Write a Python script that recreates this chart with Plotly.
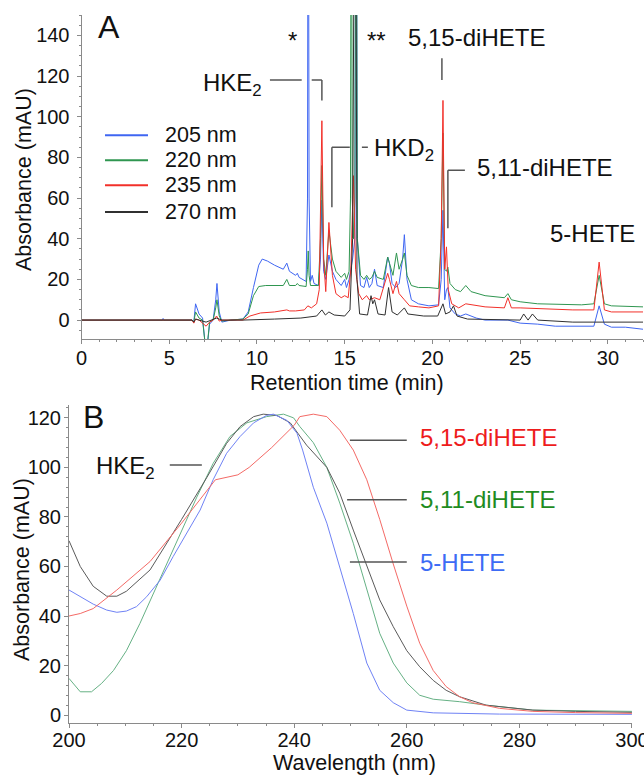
import plotly.graph_objects as go

# ---------------- Panel A: chromatogram (retention time in min, absorbance in mAU)
t_205 = [0, 4.6, 4.65, 4.7, 6.3, 6.4, 6.5, 6.7, 6.9, 7.05, 7.15, 7.3, 7.5, 7.65, 7.72, 7.85, 8.0, 8.5,
         9.2, 9.5, 9.8, 10.1, 10.3, 10.6, 11.0, 11.5, 11.7, 11.85, 12.2, 12.3, 12.4, 12.8, 12.88, 12.92,
         12.97, 13.05, 13.15, 13.25, 13.5, 13.62, 13.7, 13.8, 13.92, 14.1, 14.3, 14.5, 14.8, 15.0, 15.1,
         15.25, 15.45, 15.58, 15.65, 15.72, 15.9, 16.1, 16.25, 16.4, 16.55, 16.7, 16.85, 17.2, 17.45,
         17.55, 17.7, 17.9, 18.1, 18.3, 18.4, 18.55, 18.8, 19.2, 19.8, 20.35, 20.5, 20.6, 20.7, 20.8,
         20.88, 21.0, 21.3, 21.6, 21.9, 22.5, 23.0, 24.3, 25.0, 26.0, 27.0, 28.5, 29.2, 29.5, 29.8,
         30.2, 31.0, 32]
a_205 = [0, 0, 0.8, 0, 0, -1, 8, 3, 1, -12, -14, -2, 0, 10, 18, 4, -1, 0,
         0.5, 4, 16, 27, 30, 29, 27, 25, 28, 24, 22, 23, 21, 19, 60, 300,
         60, 19, 22, 18, 17, 30, 59, 24, 20, 32, 24, 20, 17, 20, 16,
         20, 30, 40, 300, 40, 17, 16, 21, 16, 18, 25, 17, 16, 31,
         28, 18, 16, 18, 30, 42, 20, 10, 8, 7, 7.5, 20, 54, 10, 15,
         16, 6, 3, 2, 3, 1, 0, 0, -1.5, -2, -3, -3, -3, 7, -2,
         -3.5, -3.5, -4.5]

t_220 = [0, 6.3, 6.4, 6.5, 6.7, 6.9, 7.05, 7.15, 7.3, 7.5, 7.65, 7.72, 7.85, 8.0, 8.5, 9.2, 9.5, 9.8,
         10.1, 10.5, 11.5, 11.7, 11.85, 12.2, 12.3, 12.4, 12.8, 12.88, 12.92, 12.97, 13.05, 13.5, 13.62,
         13.7, 13.8, 13.92, 14.1, 14.3, 14.5, 14.8, 15.0, 15.1, 15.25, 15.33, 15.38, 15.43, 15.5, 15.58,
         15.65, 15.72, 15.9, 16.1, 16.25, 16.4, 16.55, 16.7, 16.85, 17.2, 17.45, 17.55, 17.75, 17.95,
         18.1, 18.3, 18.4, 18.55, 18.8, 19.2, 19.8, 20.35, 20.5, 20.6, 20.7, 20.8, 20.88, 21.0, 21.3,
         21.6, 21.9, 22.2, 23.0, 24.1, 24.3, 24.5, 25.0, 26.0, 28.5, 29.2, 29.5, 29.8, 30.2, 32]
a_220 = [0, 0, -1, 4, 1, 0, -12, -14, -1, 0, 6, 10, 2, -0.5, 0, 0.5, 3, 12,
         16.5, 17, 17, 20, 17, 17, 18, 17, 16.5, 25, 34, 22, 17, 17, 40,
         76, 30, 22, 44, 30, 24, 21, 23, 20, 24, 60, 300, 60, 40, 60,
         300, 40, 22, 20, 22, 20, 21, 24, 21, 20, 31, 28, 22, 33,
         25, 30, 33, 22, 17, 16, 16, 15.5, 40, 92, 25, 24, 26, 18, 15,
         14, 17, 14, 12, 11, 13, 10, 9, 8, 7.5, 8, 22, 8, 7, 6.5]

t_235 = [0, 6.3, 6.4, 6.5, 6.7, 7.1, 7.3, 7.5, 7.7, 7.85, 8.0, 9.2, 9.6, 10.2, 11.0, 11.7, 11.85, 12.2,
         12.7, 12.9, 13.1, 13.4, 13.55, 13.7, 13.8, 13.92, 14.1, 14.3, 14.5, 14.8, 15.0, 15.2, 15.35,
         15.5, 15.62, 15.8, 16.0, 16.25, 16.4, 16.7, 17.0, 17.45, 17.55, 17.75, 17.95, 18.1, 18.4, 18.7,
         19.2, 19.8, 20.35, 20.5, 20.6, 20.7, 20.8, 20.9, 21.1, 21.5, 21.9, 23.0, 24.1, 24.3, 24.5,
         25.0, 28.0, 29.2, 29.5, 29.8, 30.2, 32]
a_235 = [0, 0, -1.5, 0.5, 0, -3, -1, 0, 2, -0.5, 0, 0, 2, 3.5, 4, 5, 4.5, 4.5,
         5, 7, 6, 8, 15, 98, 30, 14, 48, 22, 13, 11, 12, 11, 25,
         71, 25, 13, 10, 12, 10, 11, 10, 23, 20, 13, 19, 13, 10, 7,
         6.5, 6, 7, 40, 108, 25, 36, 15, 8, 6, 8, 6.5, 6, 11, 6,
         6, 5, 5, 28.5, 5, 4, 4]

t_270 = [0, 6.3, 6.4, 6.5, 7.1, 7.7, 8.0, 9.2, 11.0, 12.5, 13.4, 13.7, 13.9, 14.1, 14.4, 15.0, 15.3,
         15.45, 15.6, 15.7, 15.85, 16.3, 16.5, 16.6, 16.7, 16.9, 17.3, 17.5, 17.7, 18.0, 18.4, 18.6,
         19.5, 20.3, 20.6, 20.75, 21.0, 21.2, 21.4, 22.0, 25.0, 25.2, 25.45, 25.7, 26.0, 28.0, 32]
a_270 = [0, 0, -1, 0.5, -1, 1, 0, 0, 0.5, 1, 2, 5, 2.5, 4, 2.5, 2, 5,
         40, 300, 20, 3, 2.5, 12, 8, 10, 3, 2.5, 16, 4, 2.5, 6, 3,
         2, 2, 8, 3, 4, 7, 2, 0.5, 0, 3, 0, 3, 0, -1, -1]

legend_names = ["205 nm", "220 nm", "235 nm", "270 nm"]

# ---------------- Panel B: UV spectra (wavelength in nm, absorbance in mAU)
w_515 = [200, 202, 204.3, 208.5, 214.4, 220, 226, 230, 232, 236, 240, 241, 243.4, 245.8, 248.1, 250.5,
         252.9, 255.2, 257.6, 260, 262.3, 264.7, 267, 269.4, 271.7, 276.5, 282.4, 290, 300]
s_515 = [40, 41, 43, 50.5, 62, 77.5, 95, 97, 100, 108, 117, 120.5, 121.5, 120.5, 115, 107,
         95, 79, 61, 44, 29, 18, 11.5, 7.4, 5, 2.7, 1.5, 1, 0.7]

w_hke = [200, 202, 204.3, 206.7, 208.5, 210.2, 214.4, 220, 224.5, 228, 230.4, 232.8, 234.5, 236.9, 239.3,
         242.2, 245.8, 248.1, 250.5, 252.9, 255.2, 257.6, 260, 262.3, 264.7, 267, 269.4, 274.1, 282.4,
         290, 300]
s_hke = [70.4, 60, 52, 48, 48, 50, 58.6, 79, 96, 109.7, 116.5, 120.5, 121.5, 121, 118,
         109, 100, 89.6, 74.7, 60, 46.5, 35.7, 26, 19.5, 14, 10, 7.4, 4, 2,
         1.5, 1.1]

w_511 = [200, 202, 204, 205.8, 207.9, 210.2, 212.6, 215, 217.3, 220, 222.7, 225.6, 228.6, 231.6, 235.1,
         238.1, 239.9, 241, 243.4, 245.8, 248.1, 250.5, 252.9, 255.2, 257.6, 260, 262.3, 264.7,
         269.4, 274.1, 282.4, 300]
s_511 = [14.8, 9.4, 9.4, 12.8, 18, 26, 37, 49, 61, 74.7, 88, 101.6, 112.5, 118, 120.5,
         121.5, 120, 116.5, 110, 100, 85.6, 69.4, 50.5, 33, 21, 13, 8, 6.4,
         5.4, 4, 2, 1.5]

w_5h = [200, 202, 204.3, 206.7, 208.5, 210.2, 212, 213.8, 216.2, 218.5, 220.9, 223.3, 225.6, 228,
        230.4, 232.8, 235.1, 236.3, 238.7, 240.5, 241.5, 243.4, 245.8, 248.1, 250.5, 252.9, 255.2,
        257.6, 260, 264.7, 276.5, 300]
s_5h = [50.5, 47.8, 44.8, 42.4, 41.5, 42, 43.8, 47.8, 54.5, 64, 73.5, 82.8, 95, 105.7,
        112.5, 118, 121, 121.5, 119, 113.8, 107, 92, 77.5, 60, 41, 21, 10,
        5, 2, 0.9, 0.4, 0.3]

FONT = "Liberation Sans, Arial, sans-serif"
C_BLUE, C_GREEN, C_RED, C_BLACK = "#3f66f2", "#2f9650", "#f2302a", "#303030"
SB_BLUE, SB_GREEN, SB_RED, SB_BLACK = "#6f82f5", "#66b185", "#f46a66", "#5a5a5a"
LEAD = "#555555"

fig = go.Figure()
for tx, ay, col, nm in [(t_205, a_205, C_BLUE, legend_names[0]), (t_220, a_220, C_GREEN, legend_names[1]),
                        (t_235, a_235, C_RED, legend_names[2]), (t_270, a_270, C_BLACK, legend_names[3])]:
    fig.add_trace(go.Scatter(x=tx, y=ay, mode="lines", line=dict(color=col, width=1), name=nm,
                             xaxis="x", yaxis="y", showlegend=False))

for wx, sy, col in [(w_511, s_511, SB_GREEN), (w_hke, s_hke, SB_BLACK), (w_5h, s_5h, SB_BLUE),
                    (w_515, s_515, SB_RED)]:
    fig.add_trace(go.Scatter(x=wx, y=sy, mode="lines", line=dict(color=col, width=1),
                             xaxis="x2", yaxis="y2", showlegend=False))

W, H = 644, 777
def px(x):
    return x / W
def py(y):
    return 1 - y / H

axis_common = dict(showline=True, linecolor="#8a8a8a", linewidth=1, ticks="outside", ticklen=4,
                   tickcolor="#8a8a8a", showgrid=False, zeroline=False, ticklabeloverflow="allow",
                   tickfont=dict(family=FONT, size=20, color="#111"), automargin=False)

fig.update_layout(
    width=W, height=H, margin=dict(l=0, r=0, t=0, b=0),
    paper_bgcolor="white", plot_bgcolor="white", showlegend=False,
    xaxis=dict(domain=[px(81.5), px(643)], range=[0, 32], tickvals=[0, 5, 10, 15, 20, 25, 30],
               minor=dict(dtick=1, ticks="outside", ticklen=2, tickcolor="#8a8a8a"),
               anchor="y", ticklabelstandoff=-3, **axis_common),
    yaxis=dict(domain=[py(339), py(15)], range=[-9.3, 150], tickvals=[0, 20, 40, 60, 80, 100, 120, 140],
               minor=dict(dtick=5, ticks="outside", ticklen=2, tickcolor="#8a8a8a"),
               anchor="x", ticklabelstandoff=3, **axis_common),
    xaxis2=dict(domain=[px(69), px(632)], range=[200, 300.01], tickvals=[200, 220, 240, 260, 280, 300],
                minor=dict(dtick=5, ticks="outside", ticklen=2, tickcolor="#8a8a8a"),
                anchor="y2", ticklabelstandoff=-5, **axis_common),
    yaxis2=dict(domain=[py(723), py(405)], range=[-3.2, 125.2], tickvals=[0, 20, 40, 60, 80, 100, 120],
                minor=dict(dtick=4, ticks="outside", ticklen=2, tickcolor="#8a8a8a"),
                anchor="x2", ticklabelstandoff=-1, **axis_common),
)

ann = []
def A(text, x, y, xref="x", yref="y", size=24, color="#111", xanchor="center", yanchor="middle", textangle=0):
    ann.append(dict(text=text, x=x, y=y, xref=xref, yref=yref, showarrow=False,
                    font=dict(family=FONT, size=size, color=color), xanchor=xanchor, yanchor=yanchor,
                    textangle=textangle))

# axis titles
A("Absorbance (mAU)", px(24), py(180), "paper", "paper", size=21.5, textangle=-90)
A("Retention time (min)", px(347), py(383), "paper", "paper", size=21.5)
A("Absorbance (mAU)", px(22), py(570), "paper", "paper", size=21.5, textangle=-90)
A("Wavelength (nm)", px(354), py(763), "paper", "paper", size=21.5)

# panel A labels
A("A", 1.54, 144, size=32)
A("*", 12.05, 137.5, size=24)
A("**", 16.8, 137.5, size=24)
A("5,15-diHETE", 22.5, 139, size=24)
A("HKE<sub>2</sub>", 8.6, 116, size=24)
A("HKD<sub>2</sub>", 18.4, 84, size=24)
A("5,11-diHETE", 26.4, 75, size=24)
A("5-HETE", 29.15, 42.8, size=24)

# panel A legend
leg_y = [90.9, 78.6, 66.3, 53.1]
leg_c = [C_BLUE, C_GREEN, C_RED, C_BLACK]
for nm, yy in zip(legend_names, leg_y):
    A(nm, 4.64, yy, size=21.5, xanchor="left")

# panel B labels
A("B", 204.4, 120.2, "x2", "y2", size=32)
A("HKE<sub>2</sub>", 210.1, 100, "x2", "y2", size=24)
A("5,15-diHETE", 262.0, 112, "x2", "y2", size=24, color="#ee1c1c", xanchor="left")
A("5,11-diHETE", 262.0, 86.9, "x2", "y2", size=24, color="#1f8c1f", xanchor="left")
A("5-HETE", 262.0, 61.8, "x2", "y2", size=24, color="#3d6cf5", xanchor="left")

fig.update_layout(annotations=ann)

shapes = []
def L(x0, y0, x1, y1, xref="x", yref="y", color=LEAD, width=1.5):
    shapes.append(dict(type="line", x0=x0, y0=y0, x1=x1, y1=y1, xref=xref, yref=yref,
                       line=dict(color=color, width=width)))

# panel A leader lines
L(20.54, 128.7, 20.54, 118)                     # 5,15-diHETE
L(10.74, 118, 12.55, 118); L(13.12, 118, 13.7, 118); L(13.7, 118, 13.7, 108)  # HKE2
L(14.27, 85, 15.29, 85); L(15.98, 85, 16.32, 85); L(14.27, 85, 14.27, 55.5)   # HKD2
L(20.88, 73.7, 21.85, 73.7); L(20.88, 73.7, 20.88, 45.2)                      # 5,11-diHETE

# legend line samples
for yy, c in zip(leg_y, leg_c):
    L(1.34, yy, 3.79, yy, color=c, width=2)

# panel B leader lines
L(217.9, 101, 223.6, 101, "x2", "y2")
L(249.9, 111, 260, 111, "x2", "y2")
L(249.4, 86.9, 260, 86.9, "x2", "y2")
L(249.9, 61.8, 260, 61.8, "x2", "y2")

fig.update_layout(shapes=shapes)
fig.write_html("out.html", config={"displayModeBar": False},
               post_script="document.body.style.margin='0';")
